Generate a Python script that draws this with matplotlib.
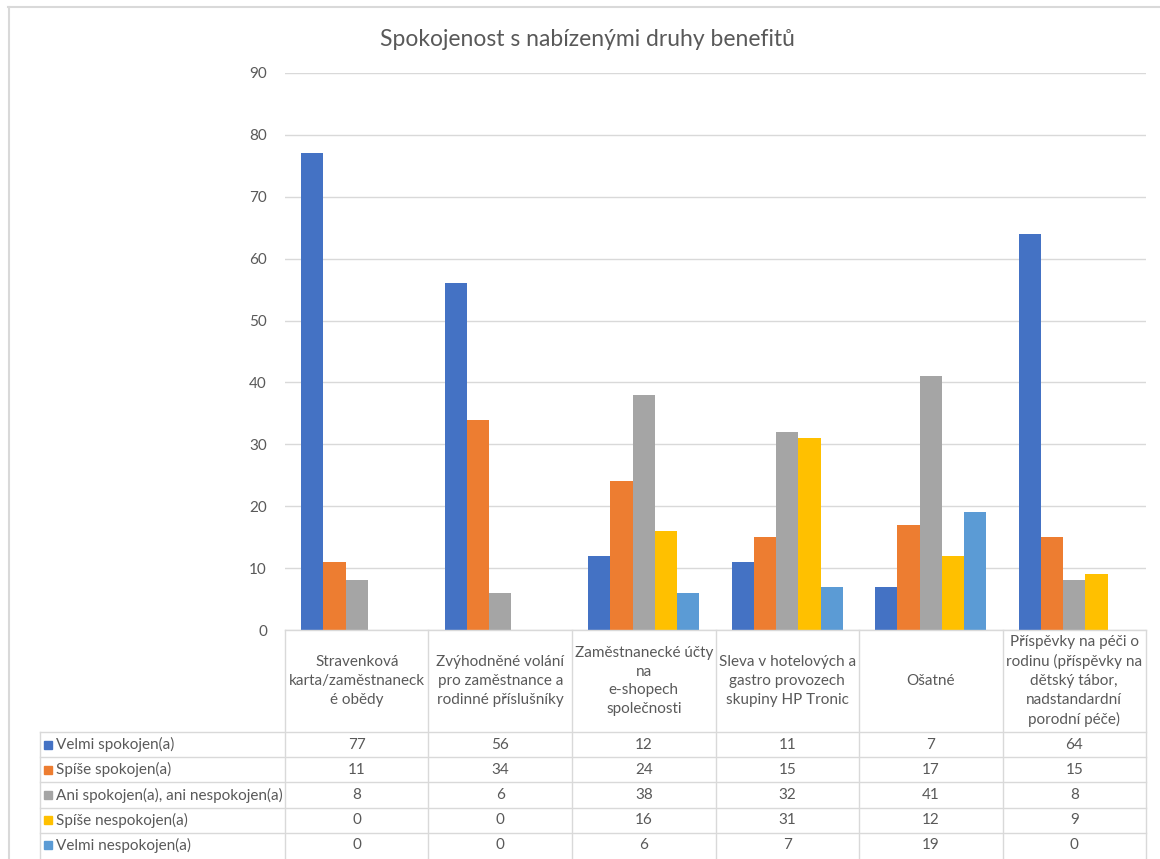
import numpy as np
import matplotlib
matplotlib.use('Agg')
import matplotlib.pyplot as plt
from matplotlib.lines import Line2D

plt.rcParams['font.family'] = ['Lato', 'DejaVu Sans']

categories = [
    'Stravenková\nkarta/zaměstnaneck\né obědy',
    'Zvýhodněné volání\npro zaměstnance a\nrodinné příslušníky',
    'Zaměstnanecké účty\nna\ne-shopech\nspolečnosti',
    'Sleva v hotelových a\ngastro provozech\nskupiny HP Tronic',
    'Ošatné',
    'Příspěvky na péči o\nrodinu (příspěvky na\ndětský tábor,\nnadstandardní\nporodní péče)',
]
series = [
    'Velmi spokojen(a)',
    'Spíše spokojen(a)',
    'Ani spokojen(a), ani nespokojen(a)',
    'Spíše nespokojen(a)',
    'Velmi nespokojen(a)',
]
velmi_spokojen = [77, 56, 12, 11, 7, 64]
spise_spokojen = [11, 34, 24, 15, 17, 15]
ani_ani = [8, 6, 38, 32, 41, 8]
spise_nespokojen = [0, 0, 16, 31, 12, 9]
velmi_nespokojen = [0, 0, 6, 7, 19, 0]
values = [velmi_spokojen, spise_spokojen, ani_ani, spise_nespokojen, velmi_nespokojen]
colors = ['#4472C4', '#ED7D31', '#A5A5A5', '#FFC000', '#5B9BD5']
title = 'Spokojenost s nabízenými druhy benefitů'

txt = '#595959'
grid = '#D9D9D9'
W, H = 1160, 859


def fx(px):
    return px / W


def fy(py):
    return 1 - py / H


fig = plt.figure(figsize=(11.6, 8.59), dpi=100)

# chart border (cropped screenshot)
fig.add_artist(Line2D([fx(8), 1.0], [fy(7), fy(7)], color=grid, lw=1.5))
fig.add_artist(Line2D([fx(8.5), fx(8.5)], [fy(7), 0.0], color=grid, lw=1.5))

fig.text(fx(587), fy(40), title, ha='center', va='center', fontsize=16.5, color=txt)

# bar area
ax = fig.add_axes([fx(285), fy(630), fx(1146) - fx(285), fy(73) - fy(630)])
x = np.arange(len(categories))
w = 0.155
for j, (vals, c) in enumerate(zip(values, colors)):
    ax.bar(x + (j - 2) * w, vals, width=w, color=c, zorder=3)
ax.set_xlim(-0.5, len(categories) - 0.5)
ax.set_ylim(0, 90)
ax.set_yticks(range(0, 91, 10))
ax.set_xticks([])
ax.yaxis.grid(True, color=grid, lw=1)
for s in ax.spines.values():
    s.set_visible(False)
ax.tick_params(axis='y', length=0, pad=13, labelsize=11, labelcolor=txt)

# data table
tax = fig.add_axes([fx(40), fy(858), fx(1146) - fx(40), fy(630) - fy(858)])
colw = (1146 - 285) / len(categories)
L = (285 - 40) / colw
hh = 102 / 25.2
nrows = len(series)
xl = -0.5 - L
tax.set_xlim(xl, len(categories) - 0.5)
tax.set_ylim(hh + nrows, 0)
tax.axis('off')

for k in range(len(categories) + 1):
    tax.plot([k - 0.5, k - 0.5], [0, hh + nrows], color=grid, lw=1, clip_on=False)
tax.plot([xl, xl], [hh, hh + nrows], color=grid, lw=1, clip_on=False)
tax.plot([-0.5, len(categories) - 0.5], [0, 0], color=grid, lw=1, clip_on=False)
for r in range(nrows):
    tax.plot([xl, len(categories) - 0.5], [hh + r, hh + r], color=grid, lw=1, clip_on=False)

for i, cat in enumerate(categories):
    tax.text(i, hh / 2, cat, ha='center', va='center', fontsize=11,
             color=txt, linespacing=1.42)

for r, (name, vals, c) in enumerate(zip(series, values, colors)):
    yc = hh + r + 0.5
    tax.plot([xl + 8 / colw], [yc], marker='s', ms=6, color=c, clip_on=False)
    tax.text(xl + 16 / colw, yc, name, ha='left', va='center', fontsize=11, color=txt)
    for i, v in enumerate(vals):
        tax.text(i, yc, str(v), ha='center', va='center', fontsize=11, color=txt)

fig.savefig('out.png', dpi=100, facecolor='white')
